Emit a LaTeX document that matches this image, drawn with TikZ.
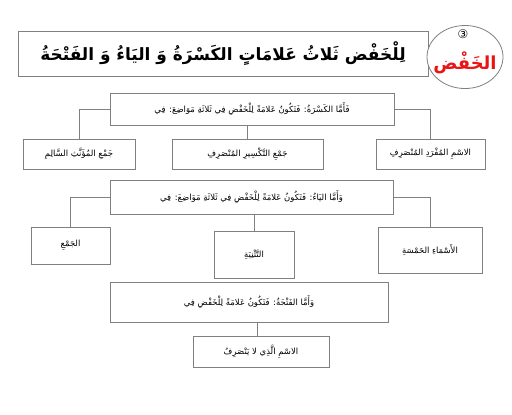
\documentclass[tikz,border=0pt]{standalone}
\usepackage{fontspec}
\setmainfont{DejaVu Sans}
\newfontfamily\arabicfont[Script=Arabic]{DejaVu Sans}
\TeXXeTstate=1
\usetikzlibrary{shapes.geometric}
\definecolor{linegray}{gray}{0.5}
\definecolor{titlered}{RGB}{235,20,20}
\tikzset{
  box/.style={draw=linegray, line width=0.8bp, inner sep=0pt, outer sep=0pt, anchor=north west,
    font=\arabicfont\fontsize{8.5}{10}\selectfont},
  link/.style={draw=linegray, line width=0.8bp},
}
\begin{document}
\begin{tikzpicture}[x=1bp,y=-1bp]
\useasboundingbox[fill=white] (0,0) rectangle (512,414);

% title
\node[box, minimum width=410bp, minimum height=45bp, font=\arabicfont\bfseries\fontsize{17}{19}\selectfont] (title) at (18,31)
  {\beginR لِلْخَفْض ثَلاثُ عَلامَاتٍ الكَسْرَةُ وَ اليَاءُ وَ الفَتْحَةُ\endR};
\node[ellipse, draw=linegray, line width=0.8bp, fill=white, minimum width=76bp, minimum height=63bp, inner sep=0pt] (circ) at (465,57) {};
\node[font=\fontsize{12}{13}\selectfont, inner sep=0pt] (num) at (463,34) {③};
\node[font=\arabicfont\bfseries\fontsize{18}{20}\selectfont, text=titlered, inner sep=0pt] (khafd) at (465,63) {\beginR الخَفْض\endR};

% row 1
\node[box, minimum width=284bp, minimum height=32bp] (k1) at (110,93)
  {\beginR فَأَمَّا الكَسْرَةُ: فَتَكُونُ عَلامَةً لِلْخَفْضِ فِي ثَلاثَةِ مَوَاضِعَ: فِي\endR};
\node[box, minimum width=112bp, minimum height=30bp] (a1) at (23,139)
  {\beginR جَمْعِ المُؤَنَّثِ السَّالِمِ\endR};
\node[box, minimum width=151bp, minimum height=30bp] (a2) at (172,139)
  {\beginR جَمْعِ التَّكْسِيرِ المُنْصَرِفِ\endR};
\node[box, minimum width=109bp, minimum height=30bp] (a3) at (376,139)
  {\beginR الاسْمِ المُفْرَدِ المُنْصَرِفِ\endR};
\draw[link] (k1.west) -| (a1.north);
\draw[link] (k1.east) -| (a3.north);
\draw[link] (a2.north) -- (a2.north |- k1.south);

% row 2
\node[box, minimum width=283bp, minimum height=34bp] (k2) at (110,180)
  {\beginR وَأَمَّا اليَاءُ: فَتَكُونُ عَلامَةً لِلْخَفْضِ فِي ثَلاثَةِ مَوَاضِعَ: فِي\endR};
\node[box, minimum width=79bp, minimum height=37bp] (b1) at (31,227)
  {\beginR الجَمْعِ\endR};
\node[box, minimum width=80bp, minimum height=47bp] (b2) at (214,231)
  {\beginR التَّثْنِيَةِ\endR};
\node[box, minimum width=104bp, minimum height=46bp] (b3) at (378,227)
  {\beginR الأَسْمَاءِ الخَمْسَةِ\endR};
\draw[link] (k2.west) -| (b1.north);
\draw[link] (k2.east) -| (b3.north);
\draw[link] (b2.north) -- (b2.north |- k2.south);

% row 3
\node[box, minimum width=278bp, minimum height=40bp] (k3) at (110,282)
  {\beginR وَأَمَّا الفَتْحَةُ: فَتَكُونُ عَلامَةً لِلْخَفْضِ فِي\endR};
\node[box, minimum width=136bp, minimum height=31bp] (c1) at (193,336)
  {\beginR الاسْمِ الَّذِي لا يَنْصَرِفُ\endR};
\coordinate (c1top) at ([xshift=-4bp]c1.north);
\draw[link] (c1top) -- (c1top |- k3.south);
\end{tikzpicture}
\end{document}
